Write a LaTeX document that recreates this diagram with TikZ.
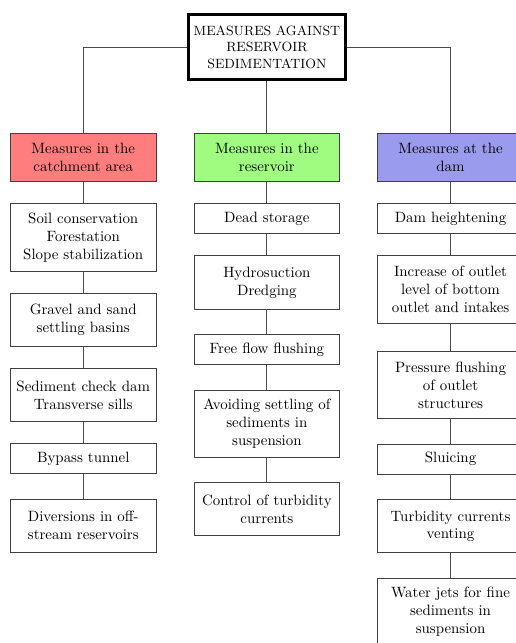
\documentclass[tikz,border=0pt]{standalone}
\usepackage{xcolor}
\usepackage{tikz}
\usetikzlibrary{positioning}

\definecolor{catchred}{RGB}{255,125,125}
\definecolor{resgreen}{RGB}{160,252,128}
\definecolor{damblue}{RGB}{155,155,238}

\begin{document}
\begin{tikzpicture}[
    node distance=0.5cm,
    every node/.style={align=center},
    titlebox/.style={draw, rectangle, line width=2pt, minimum width=3.5cm, minimum height=1.55cm, font=\small},
    header/.style={draw=black!75, rectangle, minimum width=3.43cm, minimum height=1.13cm, line width=0.6pt},
    leaf/.style={draw=black!75, rectangle, minimum width=3.43cm, inner ysep=5.5pt, line width=0.6pt},
    twoline/.style={minimum height=1.25cm},
    threeline/.style={minimum height=1.58cm},
    link/.style={draw=black!70, line width=0.6pt}
]
    \useasboundingbox (0,0) rectangle (12.14,-15.13);

    % Titulo
    \node (title) [titlebox] at (6.28,-1.105) {MEASURES AGAINST\\RESERVOIR\\SEDIMENTATION};

    % Grupos de medidas
    \node (reservoir) [header, fill=resgreen, below=1.22cm of title] {Measures in the\\reservoir};
    \node (catchment) [header, fill=catchred, left=0.87cm of reservoir] {Measures in the\\catchment area};
    \node (dam) [header, fill=damblue, right=0.87cm of reservoir] {Measures at the\\dam};

    % Bacia hidrografica
    \node (soil) [leaf, threeline, below=of catchment] {Soil conservation\\Forestation\\Slope stabilization};
    \node (gravel) [leaf, twoline, below=of soil] {Gravel and sand\\settling basins};
    \node (checkdam) [leaf, twoline, below=of gravel] {Sediment check dam\\Transverse sills};
    \node (bypass) [leaf, below=of checkdam] {Bypass tunnel};
    \node (diversion) [leaf, twoline, below=0.58cm of bypass] {Diversions in off-\\stream reservoirs};

    % Reservatorio
    \node (dead) [leaf, below=of reservoir] {Dead storage};
    \node (hydro) [leaf, twoline, below=of dead] {Hydrosuction\\Dredging};
    \node (freeflow) [leaf, below=0.58cm of hydro] {Free flow flushing};
    \node (avoid) [leaf, threeline, below=0.58cm of freeflow] {Avoiding settling of\\sediments in\\suspension};
    \node (turbctrl) [leaf, twoline, below=0.58cm of avoid] {Control of turbidity\\currents};

    % Barragem
    \node (heighten) [leaf, below=of dam] {Dam heightening};
    \node (outlet) [leaf, threeline, below=of heighten] {Increase of outlet\\level of bottom\\outlet and intakes};
    \node (pressure) [leaf, threeline, below=0.65cm of outlet] {Pressure flushing\\of outlet\\structures};
    \node (sluicing) [leaf, below=0.58cm of pressure] {Sluicing};
    \node (venting) [leaf, twoline, below=0.58cm of sluicing] {Turbidity currents\\venting};
    \node (jets) [leaf, threeline, below=0.58cm of venting] {Water jets for fine\\sediments in\\suspension};

    % Ligacoes do titulo
    \draw [link] (title.west) -| (catchment.north);
    \draw [link] (title) -- (reservoir);
    \draw [link] (title.east) -| (dam.north);

    % Ligacoes das colunas
    \draw [link] (catchment) -- (soil);
    \draw [link] (soil) -- (gravel);
    \draw [link] (gravel) -- (checkdam);
    \draw [link] (checkdam) -- (bypass);
    \draw [link] (bypass) -- (diversion);

    \draw [link] (reservoir) -- (dead);
    \draw [link] (dead) -- (hydro);
    \draw [link] (hydro) -- (freeflow);
    \draw [link] (freeflow) -- (avoid);
    \draw [link] (avoid) -- (turbctrl);

    \draw [link] (dam) -- (heighten);
    \draw [link] (heighten) -- (outlet);
    \draw [link] (outlet) -- (pressure);
    \draw [link] (pressure) -- (sluicing);
    \draw [link] (sluicing) -- (venting);
    \draw [link] (venting) -- (jets);

\end{tikzpicture}
\end{document}
